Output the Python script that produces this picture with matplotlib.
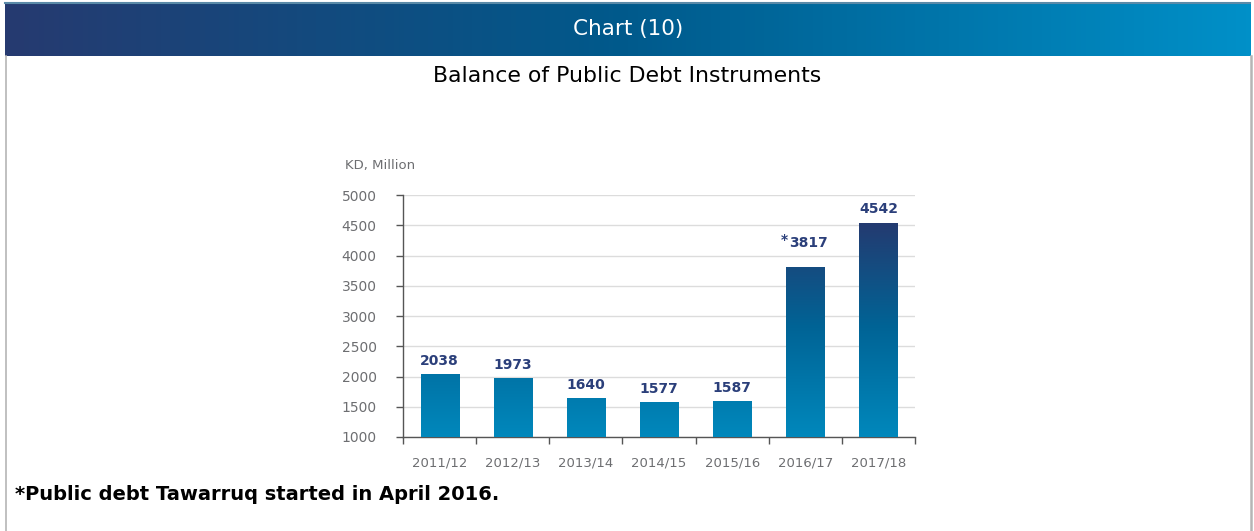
import numpy as np
import matplotlib.pyplot as plt
from matplotlib.colors import LinearSegmentedColormap
from matplotlib.patches import Rectangle

years = ["2011/12", "2012/13", "2013/14", "2014/15", "2015/16", "2016/17", "2017/18"]
balance = [2038, 1973, 1640, 1577, 1587, 3817, 4542]
marked = ["", "", "", "", "", "*", ""]
yticks = [1000, 1500, 2000, 2500, 3000, 3500, 4000, 4500, 5000]

navy = "#2b3f7a"
grey_txt = "#6d6e71"

fig = plt.figure(figsize=(12.54, 5.31), dpi=100)

# header band with horizontal gradient
band = LinearSegmentedColormap.from_list("band", ["#263a70", "#005a8c", "#0090c8"])
hax = fig.add_axes([5 / 1254, 1 - 56 / 531, 1246 / 1254, 53 / 531])
hax.imshow(np.linspace(0, 1, 256)[None, :], aspect="auto", cmap=band, extent=(0, 1, 0, 1))
hax.set_axis_off()
hax.text(0.5, 0.5, "Chart (10)", color="white", fontsize=15.5, ha="center", va="center",
         transform=hax.transAxes)
fig.add_artist(plt.Line2D([5 / 1254, 1250 / 1254], [1 - 2.5 / 531] * 2, color="#5a8aa8", lw=1.5))

# side frame lines
fig.add_artist(plt.Line2D([6 / 1254] * 2, [0, 1 - 56 / 531], color="#b5b5b5", lw=1.2))
fig.add_artist(plt.Line2D([1251 / 1254] * 2, [0, 1 - 56 / 531], color="#b5b5b5", lw=1.8))

fig.text(0.5, 1 - 76 / 531, "Balance of Public Debt Instruments", ha="center", va="center",
         fontsize=15.8, color="black")

ax = fig.add_axes([403 / 1254, 94 / 531, 512 / 1254, 242 / 531])
x = np.arange(len(years))
ax.set_xlim(-0.5, len(years) - 0.5)
ax.set_ylim(1000, 5000)

# bars filled with a vertical gradient tied to the value scale
barmap = LinearSegmentedColormap.from_list("bar", ["#0088bc", "#006496", "#25396f"])
grad = np.linspace(0, 1, 256)[:, None]
width = 0.52
for xi, v in zip(x, balance):
    rect = Rectangle((xi - width / 2, 1000), width, v - 1000, facecolor="none", edgecolor="none")
    ax.add_patch(rect)
    im = ax.imshow(grad, aspect="auto", cmap=barmap, origin="lower",
                   extent=(xi - width / 2, xi + width / 2, 1000, 4600), zorder=3)
    im.set_clip_path(rect)

for xi, v, m in zip(x, balance, marked):
    if m:
        t = ax.text(xi + 0.04, v + 280, str(v), ha="center", va="bottom", fontsize=10,
                    fontweight="bold", color=navy, zorder=4)
        ax.annotate(m, xy=(0, 1), xycoords=t, xytext=(-1, 2), textcoords="offset points",
                    ha="right", va="top", fontsize=10, fontweight="bold", color=navy)
    else:
        ax.text(xi, v + 105, str(v), ha="center", va="bottom", fontsize=10,
                fontweight="bold", color=navy, zorder=4)

ax.set_yticks(yticks)
ax.set_yticklabels([str(t) for t in yticks])
ax.set_xticks(np.arange(len(years) + 1) - 0.5, minor=False)
ax.set_xticklabels([])
ax.set_xticks(x, minor=True)
ax.set_xticklabels(years, minor=True)
ax.tick_params(axis="x", which="major", length=5, color="#555555", width=1)
ax.tick_params(axis="x", which="minor", length=0, pad=14, labelsize=9.5, labelcolor=grey_txt)
ax.tick_params(axis="y", length=5, color="#555555", width=1, labelsize=10,
               labelcolor=grey_txt, pad=14)
ax.grid(axis="y", color="#dcdcdc", lw=1)
ax.set_axisbelow(True)
for s in ["top", "right"]:
    ax.spines[s].set_visible(False)
for s in ["left", "bottom"]:
    ax.spines[s].set_color("#555555")
    ax.spines[s].set_linewidth(1)

fig.text(345 / 1254, 1 - 166 / 531, "KD, Million", ha="left", va="center",
         fontsize=9.5, color=grey_txt)

fig.text(15 / 1254, 1 - 495 / 531, "*Public debt Tawarruq started in April 2016.",
         ha="left", va="center", fontsize=14, fontweight="bold", color="black")

fig.savefig("out.png", dpi=100)
